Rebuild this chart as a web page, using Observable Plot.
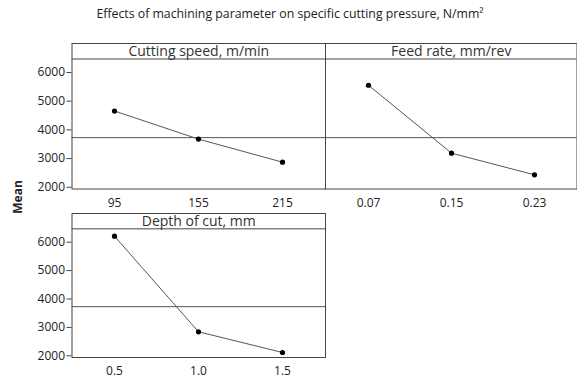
<!DOCTYPE html>
<html>
<head>
<meta charset="utf-8">
<script src="https://cdn.jsdelivr.net/npm/d3@7"></script>
<script src="https://cdn.jsdelivr.net/npm/@observablehq/plot@0.6"></script>
<style>
  html, body { margin: 0; padding: 0; background: #fff; }
  #wrap { position: relative; width: 577px; height: 381px; overflow: hidden; font-family: "Open Sans", sans-serif; }
  #wrap svg { position: absolute; left: 0; top: 0; }
  #title { position: absolute; left: 0; width: 580px; top: 5px; text-align: center; font-size: 12.3px; color: #222; }
  #ylab { position: absolute; left: 17px; top: 197px; transform: translate(-50%, -50%) rotate(-90deg); font-size: 12px; font-weight: bold; color: #222; white-space: nowrap; }
</style>
</head>
<body>
<div id="wrap">
  <div id="title">Effects of machining parameter on specific cutting pressure, N/mm²</div>
  <div id="ylab">Mean</div>
</div>
<script>
const panelTitles = ["Cutting speed, m/min", "Feed rate, mm/rev", "Depth of cut, mm"];
const speedLevels = ["95", "155", "215"];
const speedMeans = [4657, 3678, 2874];
const feedLevels = ["0.07", "0.15", "0.23"];
const feedMeans = [5556, 3189, 2433];
const depthLevels = ["0.5", "1.0", "1.5"];
const depthMeans = [6211, 2845, 2116];
const grandMean = 3730;
const yTicks = [2000, 3000, 4000, 5000, 6000];

const yDomain = [1940, 7010];
const headerLine = 6470;

function panel(title, levels, means, box, showY) {
  const data = levels.map((l, i) => ({level: l, mean: means[i]}));
  const marks = [
    Plot.ruleY([grandMean], {stroke: "#555", strokeWidth: 1}),
    Plot.lineY(data, {x: "level", y: "mean", stroke: "#555", strokeWidth: 1}),
    Plot.dot(data, {x: "level", y: "mean", fill: "#000", r: 2.6}),
    Plot.ruleY([headerLine], {stroke: "#444", strokeWidth: 1}),
    Plot.text([title], {text: d => d, frameAnchor: "top", lineAnchor: "middle", dy: 8, fontSize: 14, fill: "#333"}),
    Plot.frame({stroke: "#444", strokeWidth: 1}),
    Plot.axisX({tickSize: 0, tickPadding: 9, fontSize: 12, fill: "#222", label: null})
  ];
  if (showY) marks.push(Plot.axisY(yTicks, {tickSize: 5, tickPadding: 2, fontSize: 12, fill: "#222", stroke: "#444", tickFormat: "d", label: null}));
  return Plot.plot({
    width: 577,
    height: 381,
    marginLeft: box.left,
    marginRight: 577 - box.right,
    marginTop: box.top,
    marginBottom: 381 - box.bottom,
    style: {fontFamily: "Open Sans", background: "transparent", overflow: "visible"},
    x: {type: "point", domain: levels, padding: 0.5, label: null},
    y: {domain: yDomain, label: null, axis: showY ? undefined : null},
    marks
  });
}

const wrap = document.getElementById("wrap");
wrap.appendChild(panel(panelTitles[0], speedLevels, speedMeans, {left: 71.5, right: 325, top: 43, bottom: 188.5}, true));
wrap.appendChild(panel(panelTitles[1], feedLevels, feedMeans, {left: 325, right: 576.5, top: 43, bottom: 188.5}, false));
wrap.appendChild(panel(panelTitles[2], depthLevels, depthMeans, {left: 71.5, right: 325, top: 213, bottom: 357}, true));
</script>
</body>
</html>
